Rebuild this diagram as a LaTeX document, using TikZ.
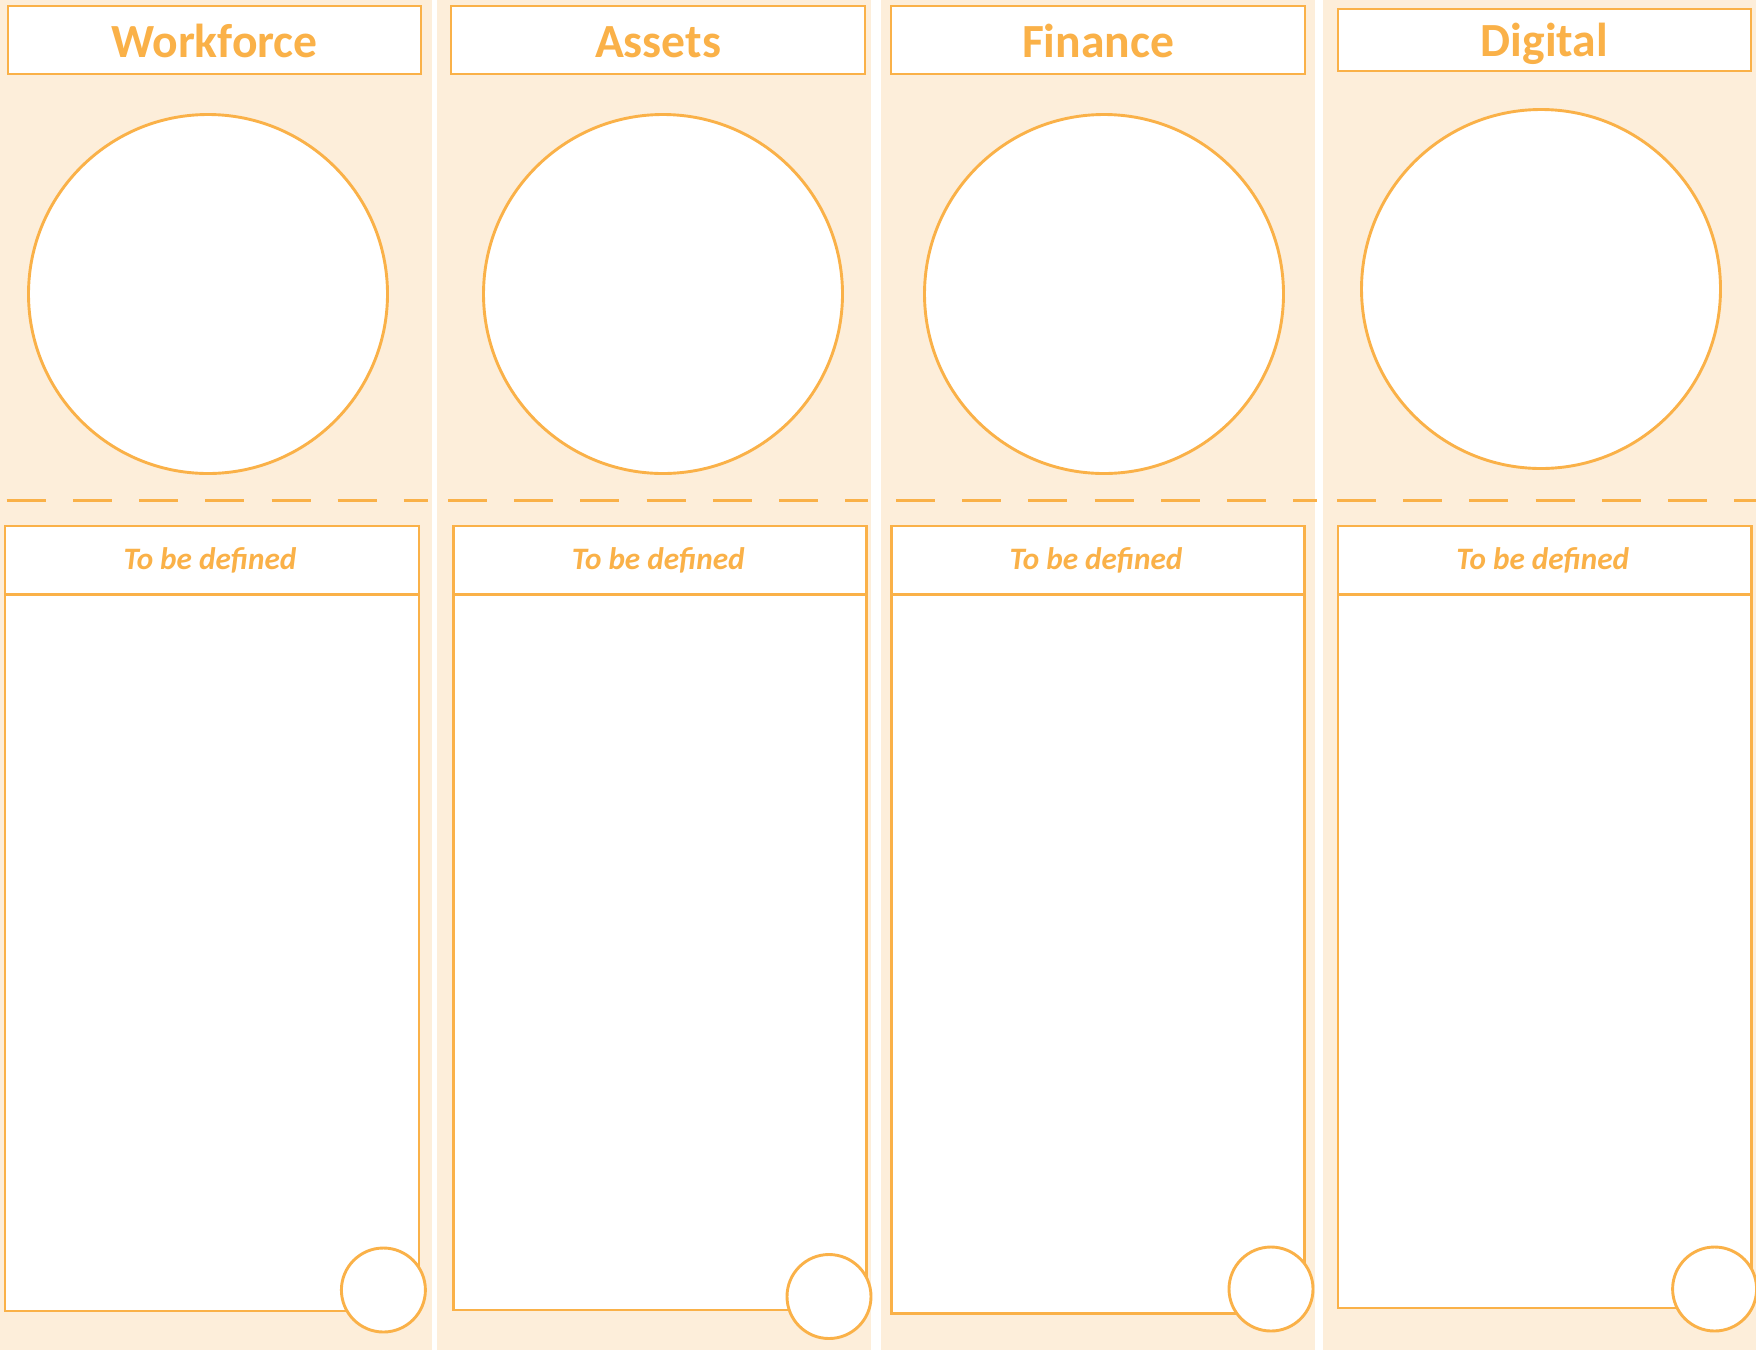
\documentclass[tikz,border=0pt]{standalone}
\usepackage{fontspec}
\setmainfont{Carlito}
\definecolor{lineor}{RGB}{250,177,72}
\definecolor{cream}{RGB}{253,238,218}
\tikzset{
  colbg/.style={fill=cream, draw=none},
  frame/.style={draw=lineor, line width=1.45pt, fill=white},
  sepline/.style={draw=lineor, line width=1.45pt, dash pattern=on 19.5pt off 13.6pt},
  titletext/.style={text=lineor, font=\bfseries\fontsize{23.8}{28}\selectfont, anchor=base, inner sep=0pt},
  subtext/.style={text=lineor, font=\bfseries\itshape\fontsize{15.6}{20}\selectfont, anchor=base, inner sep=0pt},
}
\begin{document}
\begin{tikzpicture}[x=0.5pt, y=-0.5pt]
\useasboundingbox (0,0) rectangle (1756,1350);
\fill[white] (0,0) rectangle (1756,1350);
% column backgrounds
\path[colbg] (0,0) rectangle (432,1350);
\path[colbg] (437,0) rectangle (871,1350);
\path[colbg] (881,0) rectangle (1315,1350);
\path[colbg] (1323,0) rectangle (1756,1350);
% title boxes
\draw[frame] (8,6) rectangle (421,74);
\draw[frame] (451,6) rectangle (865,74);
\draw[frame] (891,6) rectangle (1305,74);
\draw[frame] (1338,9) rectangle (1751,71);
\node[titletext] (t1) at (214.5,57) {Workforce};
\node[titletext] (t2) at (658,57) {Assets};
\node[titletext] (t3) at (1098,57) {Finance};
\node[titletext] (t4) at (1544.5,56) {Digital};
% big circles
\draw[frame] (208,294) circle [radius=179.5];
\draw[frame] (663,294) circle [radius=179.5];
\draw[frame] (1104,294) circle [radius=179.5];
\draw[frame] (1541,289) circle [radius=179.5];
% dashed separators
\draw[sepline] (6.7,500.7) -- (427.7,500.7);
\draw[sepline] (448,500.7) -- (868,500.7);
\draw[sepline] (896,500.7) -- (1317,500.7);
\draw[sepline] (1337,500.7) -- (1756,500.7);
% lower boxes
\draw[frame] (5,526) rectangle (419,1311);
\draw[lineor, line width=1.45pt] (5,594.5) -- (419,594.5);
\draw[frame] (453.8,526) rectangle (866.8,1310);
\draw[lineor, line width=1.45pt] (453.8,594.5) -- (866.8,594.5);
\draw[frame] (891.5,526) rectangle (1304.7,1313.7);
\draw[lineor, line width=1.45pt] (891.5,594.5) -- (1304.7,594.5);
\draw[frame] (1338,526) rectangle (1751.6,1308);
\draw[lineor, line width=1.45pt] (1338,594.5) -- (1751.6,594.5);
\node[subtext] (s1) at (210,569) {To be defined};
\node[subtext] (s2) at (658.3,569) {To be defined};
\node[subtext] (s3) at (1096.1,569) {To be defined};
\node[subtext] (s4) at (1542.8,569) {To be defined};
% small circles
\draw[frame] (383.4,1290) circle [radius=42];
\draw[frame] (829,1296.5) circle [radius=42];
\draw[frame] (1271,1289) circle [radius=42];
\draw[frame] (1714.6,1289) circle [radius=42];
\end{tikzpicture}
\end{document}
